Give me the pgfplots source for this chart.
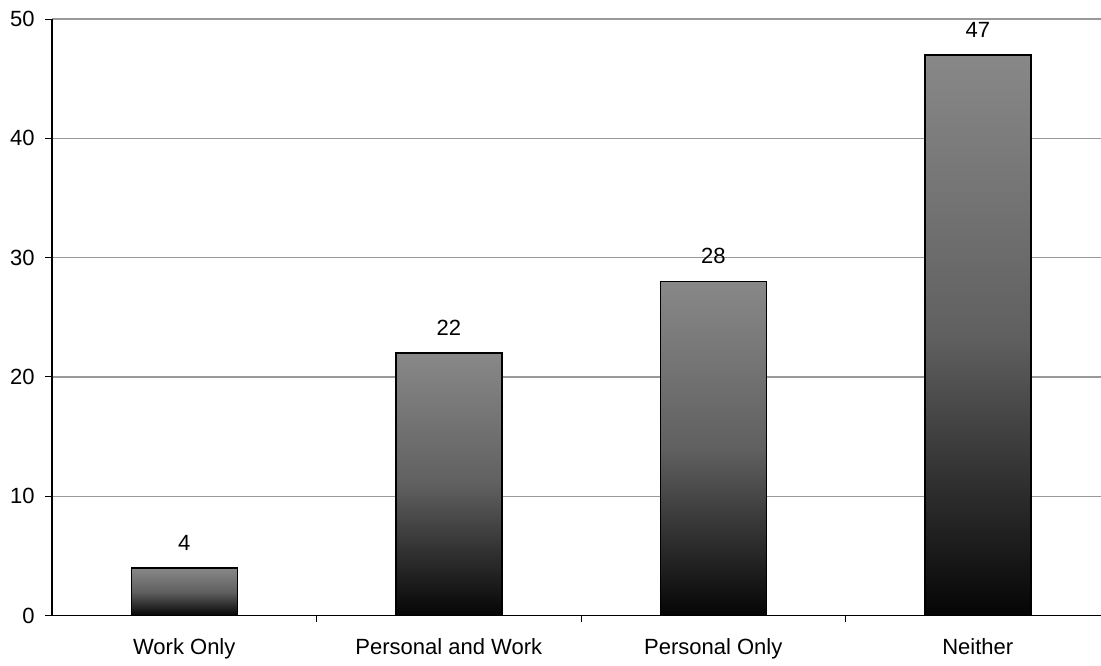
\documentclass[border=0pt]{standalone}
\usepackage{fontspec}
\setmainfont{Liberation Sans}
\usepackage{pgfplots}
\pgfplotsset{compat=1.18}
\usetikzlibrary{calc,shadings}
\definecolor{gridgray}{HTML}{999999}
\definecolor{bartop}{HTML}{888888}
\definecolor{barmid}{HTML}{606060}
\definecolor{barbot}{HTML}{050505}
\pgfplotsset{barstyle/.style={ybar, bar shift=0pt, bar width=53pt, draw=black, line width=0.75pt,
     top color=bartop, bottom color=barbot, middle color=barmid}}
\begin{document}
\begin{tikzpicture}
\begin{axis}[
  name=ax,
  scale only axis, width=524.5pt, height=298.25pt,
  xmin=-0.5, xmax=3.466, ymin=0, ymax=50,
  axis lines=left, axis line style={-, line width=0.6pt, black},
  ybar, bar width=53pt,
  xtick={0,1,2,3},
  xticklabels={Work Only, Personal and Work, Personal Only, Neither},
  minor xtick={0.5,1.5,2.5},
  ytick={0,10,20,30,40,50},
  ymajorgrids, major grid style={gridgray, line width=0.7pt},
  tick align=outside,
  major tick length=3.5pt, minor tick length=3pt,
  major x tick style={draw=none},
  tick style={black, line width=0.5pt},
  /pgf/number format/assume math mode=true,
  tick label style={font=\fontsize{11}{13}\selectfont},
  yticklabel style={anchor=east, inner sep=0pt, xshift=-5pt},
  xticklabel style={anchor=base, inner sep=0pt, yshift=-16pt},
  nodes near coords,
  every node near coord/.append style={font=\fontsize{11}{13}\selectfont, black, yshift=5pt},
  clip=false,
]
\addplot[barstyle] coordinates {(0,4)};
\addplot[barstyle] coordinates {(1,22)};
\addplot[barstyle] coordinates {(2,28)};
\addplot[barstyle] coordinates {(3,47)};
\end{axis}
\pgfresetboundingbox
\path ($(ax.south west)+(-26pt,-24.75pt)$) rectangle ($(ax.north east)+(0pt,9.5pt)$);
\end{tikzpicture}
\end{document}
